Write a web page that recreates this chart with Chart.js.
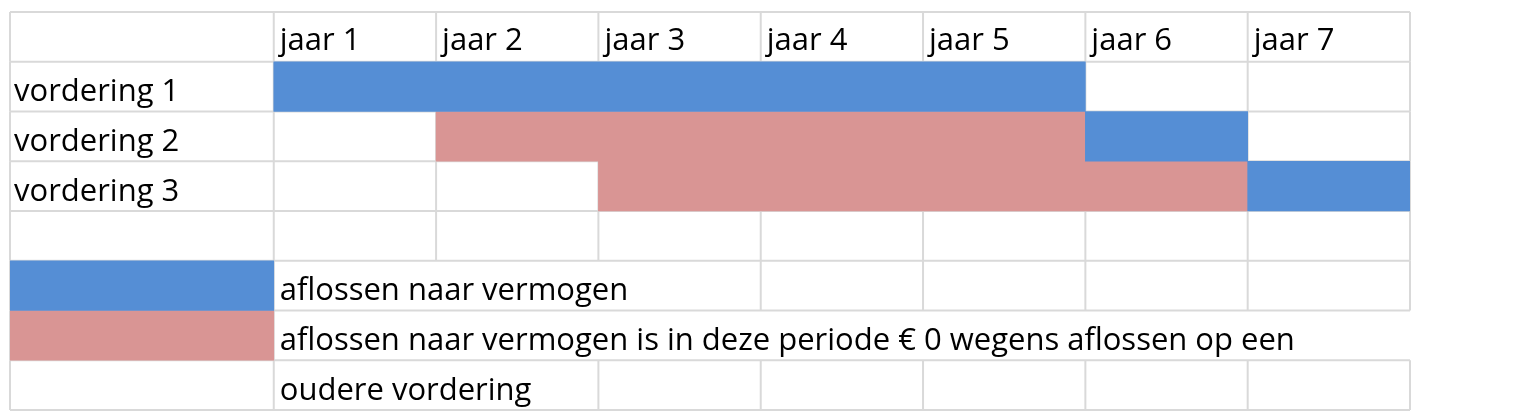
<!DOCTYPE html>
<html><head><meta charset="utf-8">
<script src="https://cdn.jsdelivr.net/npm/chart.js@4"></script>
<style>html,body{margin:0;padding:0;background:#fff}#w{width:1516px;height:420px}</style>
</head><body><div id="w"><canvas id="c"></canvas></div>
<script>
const rows = ['header','vordering 1','vordering 2','vordering 3','leeg','legenda 1','legenda 2','legenda 3'];
const years = ['jaar 1','jaar 2','jaar 3','jaar 4','jaar 5','jaar 6','jaar 7'];
const rowLabels = ['', 'vordering 1', 'vordering 2', 'vordering 3', '', '', '', ''];
const labelColStart = -1.625;
// [start year, end year] per row
const blueBars = [null, [0,5], [5,6], [6,7], null, [labelColStart,0], null, null];
const pinkBars = [null, null, [1,5], [2,6], null, null, [labelColStart,0], null];
const legendTexts = [[5,'aflossen naar vermogen'],[6,'aflossen naar vermogen is in deze periode € 0 wegens aflossen op een'],[7,'oudere vordering']];
const FONT = '31px "Open Sans"';
const grid = {
  id:'grid',
  beforeDatasetsDraw(ch){
    const {ctx, scales:{x,y}} = ch;
    ctx.save(); ctx.strokeStyle='#d9d9d9'; ctx.lineWidth=2;
    const top = y.top, bot = y.bottom, h = (bot-top)/rows.length;
    const rt = i => top + i*h;
    for(let i=0;i<=rows.length;i++){ctx.beginPath();ctx.moveTo(x.left,rt(i));ctx.lineTo(x.right,rt(i));ctx.stroke();}
    const vx=[labelColStart,0,1,2,3,4,5,6,7];
    vx.forEach(v=>{
      const px=x.getPixelForValue(v);
      for(let r=0;r<rows.length;r++){
        if(r===6 && v>0) continue;
        if(r===5 && v>0 && v<3) continue;
        if(r===7 && v>0 && v<2) continue;
        ctx.beginPath();ctx.moveTo(px,rt(r));ctx.lineTo(px,rt(r+1));ctx.stroke();
      }
    });
    ctx.restore();
  },
  afterDatasetsDraw(ch){
    const {ctx, scales:{x,y}} = ch;
    ctx.save(); ctx.fillStyle='#000'; ctx.font=FONT; ctx.textBaseline='middle';
    years.forEach((t,i)=>ctx.fillText(t, x.getPixelForValue(i)+6, y.getPixelForValue(0)+4));
    rowLabels.forEach((t,i)=>{ if(t) ctx.fillText(t, x.getPixelForValue(labelColStart)+4, y.getPixelForValue(i)+6);});
    legendTexts.forEach(([r,t])=>ctx.fillText(t, x.getPixelForValue(0)+6, y.getPixelForValue(r)+6));
    ctx.restore();
  }
};
new Chart(document.getElementById('c'),{
  type:'bar',
  data:{labels:rows,datasets:[
    {data:blueBars,backgroundColor:'#558ED5',grouped:false,barPercentage:1,categoryPercentage:1},
    {data:pinkBars,backgroundColor:'#D99594',grouped:false,barPercentage:1,categoryPercentage:1}
  ]},
  options:{indexAxis:'y',responsive:true,maintainAspectRatio:false,animation:false,
    layout:{padding:{left:10,right:106,top:12,bottom:10}},
    plugins:{legend:{display:false},tooltip:{enabled:false}},
    scales:{x:{type:'linear',min:labelColStart,max:7,display:false},
            y:{display:false}}},
  plugins:[grid]
});
</script></body></html>
